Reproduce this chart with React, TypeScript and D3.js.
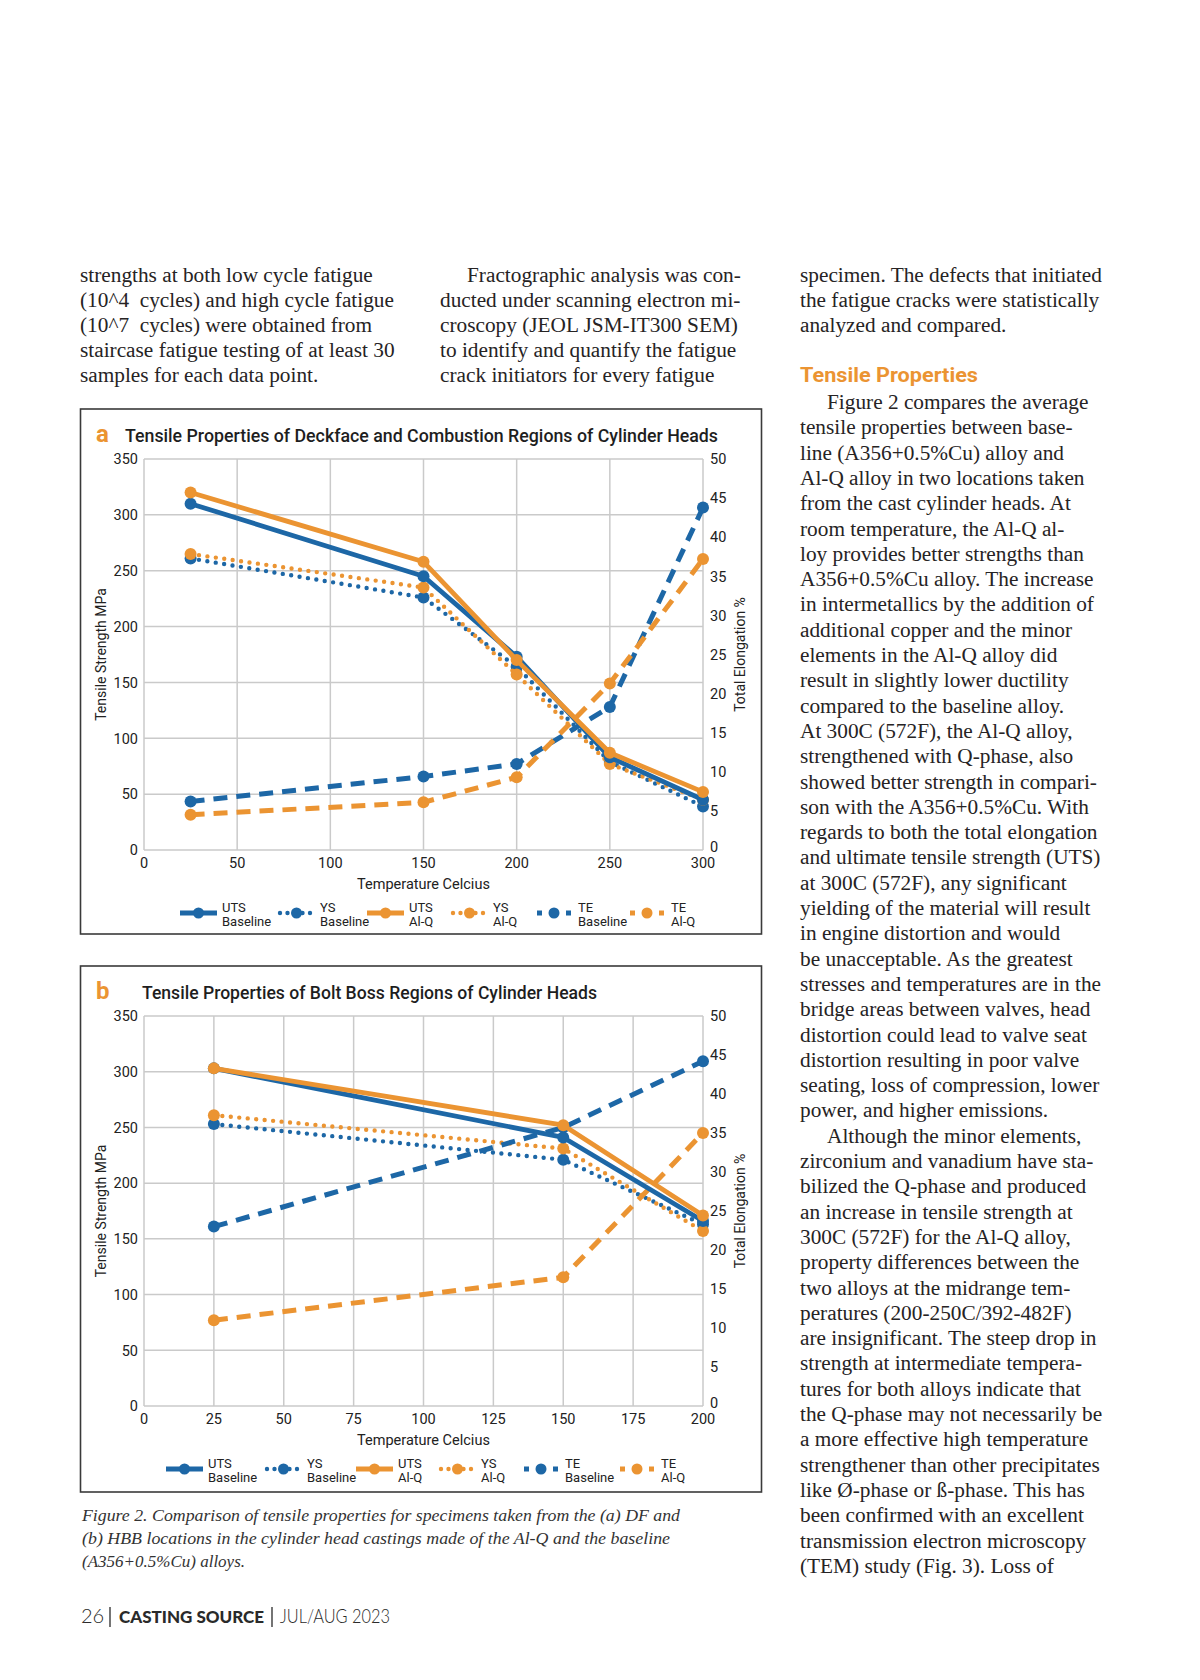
import React, { useEffect, useRef } from "react";
import * as d3 from "d3";

// chart a: deckface / combustion regions
const tempsA = [25, 150, 200, 250, 300];
const utsBaseA = [310, 245, 173, 83, 45];
const ysBaseA = [261, 226, 164, 79, 39];
const utsAlqA = [320, 258, 170, 87, 52];
const ysAlqA = [265, 235, 157, 77, 45];
const teBaseA = [6.2, 9.4, 11.0, 18.3, 43.8];
const teAlqA = [4.5, 6.1, 9.3, 21.3, 37.2];
const tempTicksA = [0, 50, 100, 150, 200, 250, 300];

// chart b: bolt boss regions
const tempsB = [25, 150, 200];
const utsBaseB = [303, 241, 166];
const ysBaseB = [253, 221, 163];
const utsAlqB = [303, 252, 171];
const ysAlqB = [261, 231, 157];
const teBaseB = [23.0, 35.7, 44.2];
const teAlqB = [11.0, 16.5, 35.0];
const tempTicksB = [0, 25, 50, 75, 100, 125, 150, 175, 200];

const mpaTicks = [0, 50, 100, 150, 200, 250, 300, 350];
const teTicks = [0, 5, 10, 15, 20, 25, 30, 35, 40, 45, 50];

const seriesNames = [
  ["UTS", "Baseline"],
  ["YS", "Baseline"],
  ["UTS", "Al-Q"],
  ["YS", "Al-Q"],
  ["TE", "Baseline"],
  ["TE", "Al-Q"],
];

const col1 = [
  "strengths at both low cycle fatigue",
  "(10^4  cycles) and high cycle fatigue",
  "(10^7  cycles) were obtained from",
  "staircase fatigue testing of at least 30",
  "samples for each data point.",
];
const col2 = [
  "Fractographic analysis was con-",
  "ducted under scanning electron mi-",
  "croscopy (JEOL JSM-IT300 SEM)",
  "to identify and quantify the fatigue",
  "crack initiators for every fatigue",
];
const col3Top = [
  "specimen. The defects that initiated",
  "the fatigue cracks were statistically",
  "analyzed and compared.",
];
const col3 = [
  "Figure 2 compares the average",
  "tensile properties between base-",
  "line (A356+0.5%Cu) alloy and",
  "Al-Q alloy in two locations taken",
  "from the cast cylinder heads. At",
  "room temperature, the Al-Q al-",
  "loy provides better strengths than",
  "A356+0.5%Cu alloy. The increase",
  "in intermetallics by the addition of",
  "additional copper and the minor",
  "elements in the Al-Q alloy did",
  "result in slightly lower ductility",
  "compared to the baseline alloy.",
  "At 300C (572F), the Al-Q alloy,",
  "strengthened with Q-phase, also",
  "showed better strength in compari-",
  "son with the A356+0.5%Cu. With",
  "regards to both the total elongation",
  "and ultimate tensile strength (UTS)",
  "at 300C (572F), any significant",
  "yielding of the material will result",
  "in engine distortion and would",
  "be unacceptable. As the greatest",
  "stresses and temperatures are in the",
  "bridge areas between valves, head",
  "distortion could lead to valve seat",
  "distortion resulting in poor valve",
  "seating, loss of compression, lower",
  "power, and higher emissions.",
  "Although the minor elements,",
  "zirconium and vanadium have sta-",
  "bilized the Q-phase and produced",
  "an increase in tensile strength at",
  "300C (572F) for the Al-Q alloy,",
  "property differences between the",
  "two alloys at the midrange tem-",
  "peratures (200-250C/392-482F)",
  "are insignificant. The steep drop in",
  "strength at intermediate tempera-",
  "tures for both alloys indicate that",
  "the Q-phase may not necessarily be",
  "a more effective high temperature",
  "strengthener than other precipitates",
  "like Ø-phase or ß-phase. This has",
  "been confirmed with an excellent",
  "transmission electron microscopy",
  "(TEM) study (Fig. 3). Loss of",
];
const captionLines = [
  "Figure 2. Comparison of tensile properties for specimens taken from the (a) DF and",
  "(b) HBB locations in the cylinder head castings made of the Al-Q and the baseline",
  "(A356+0.5%Cu) alloys.",
];

const BLUE = "#1d67a6";
const ORANGE = "#eb9432";
const GRID = "#cacaca";
const INK = "#262324";
const SANS = "Roboto, 'Noto Sans', sans-serif";
const SERIF = "'Liberation Serif', 'DejaVu Serif', serif";

type Style = "solid" | "dot" | "dash";

function styleLine(sel: any, style: Style, color: string) {
  sel.attr("fill", "none").attr("stroke", color);
  if (style === "solid") sel.attr("stroke-width", 4.8).attr("stroke-linejoin", "round");
  if (style === "dot")
    sel.attr("stroke-width", 4.4).attr("stroke-linecap", "round").attr("stroke-dasharray", "0 8.5");
  if (style === "dash") sel.attr("stroke-width", 5).attr("stroke-dasharray", "14 9");
}

interface ChartCfg {
  letter: string;
  title: string;
  titleX: number;
  titleLen: number;
  boxTop: number;
  boxBottom: number;
  y0: number;
  y350: number;
  temps: number[];
  xMax: number;
  xTicks: number[];
  series: number[][];
  legendX: number[];
}

function drawChart(svg: any, c: ChartCfg) {
  const x = d3.scaleLinear().domain([0, c.xMax]).range([144, 703]);
  const y = d3.scaleLinear().domain([0, 350]).range([c.y0, c.y350]);
  const y2 = d3.scaleLinear().domain([0, 50]).range([c.y0, c.y350]);

  svg
    .append("rect")
    .attr("x", 80.5)
    .attr("y", c.boxTop)
    .attr("width", 681)
    .attr("height", c.boxBottom - c.boxTop)
    .attr("fill", "none")
    .attr("stroke", "#3a3a3a")
    .attr("stroke-width", 1.6);

  const titleY = c.boxTop + 33;
  svg
    .append("text")
    .attr("x", 96)
    .attr("y", titleY)
    .attr("font-family", SANS)
    .attr("font-weight", 700)
    .attr("font-size", 24)
    .attr("fill", ORANGE)
    .text(c.letter);
  svg
    .append("text")
    .attr("x", c.titleX)
    .attr("y", titleY)
    .attr("font-family", SANS)
    .attr("font-weight", 500)
    .attr("font-size", 17.5)
    .attr("fill", "#1e1e1e")
    .attr("textLength", c.titleLen)
    .attr("lengthAdjust", "spacingAndGlyphs")
    .text(c.title);

  const g = svg.append("g");
  // grid
  g.selectAll(".hg")
    .data(mpaTicks)
    .enter()
    .append("line")
    .attr("x1", x(0))
    .attr("x2", x(c.xMax))
    .attr("y1", (d: number) => y(d))
    .attr("y2", (d: number) => y(d))
    .attr("stroke", GRID)
    .attr("stroke-width", 1.5);
  g.selectAll(".vg")
    .data(c.xTicks)
    .enter()
    .append("line")
    .attr("x1", (d: number) => x(d))
    .attr("x2", (d: number) => x(d))
    .attr("y1", y(0))
    .attr("y2", y(350))
    .attr("stroke", GRID)
    .attr("stroke-width", 1.5);

  const tick = { "font-family": SANS, "font-size": 14.5, fill: "#222" };
  const lab = g
    .selectAll(".ly")
    .data(mpaTicks)
    .enter()
    .append("text")
    .attr("x", 138)
    .attr("y", (d: number) => y(d))
    .attr("dy", "0.36em")
    .attr("text-anchor", "end")
    .text((d: number) => d);
  Object.entries(tick).forEach(([k, v]) => lab.attr(k, v));
  const labR = g
    .selectAll(".ry")
    .data(teTicks)
    .enter()
    .append("text")
    .attr("x", 710)
    .attr("y", (d: number) => y2(d) - (d === 0 ? 3 : 0))
    .attr("dy", "0.36em")
    .text((d: number) => d);
  Object.entries(tick).forEach(([k, v]) => labR.attr(k, v));
  const labX = g
    .selectAll(".lx")
    .data(c.xTicks)
    .enter()
    .append("text")
    .attr("x", (d: number) => x(d))
    .attr("y", c.y0 + 18)
    .attr("text-anchor", "middle")
    .text((d: number) => d);
  Object.entries(tick).forEach(([k, v]) => labX.attr(k, v));

  const mid = (c.y0 + c.y350) / 2;
  g.append("text")
    .attr("transform", `translate(106,${mid}) rotate(-90)`)
    .attr("text-anchor", "middle")
    .attr("font-family", SANS)
    .attr("font-size", 14)
    .attr("fill", "#222")
    .text("Tensile Strength MPa");
  g.append("text")
    .attr("transform", `translate(745,${mid}) rotate(-90)`)
    .attr("text-anchor", "middle")
    .attr("font-family", SANS)
    .attr("font-size", 14)
    .attr("fill", "#222")
    .text("Total Elongation %");
  g.append("text")
    .attr("x", (x(0) + x(c.xMax)) / 2)
    .attr("y", c.y0 + 39)
    .attr("text-anchor", "middle")
    .attr("font-family", SANS)
    .attr("font-size", 14.5)
    .attr("fill", "#222")
    .text("Temperature Celcius");

  const colors = [BLUE, BLUE, ORANGE, ORANGE, BLUE, ORANGE];
  const styles: Style[] = ["solid", "dot", "solid", "dot", "dash", "dash"];
  const order = [1, 3, 4, 5, 0, 2];
  order.forEach((i) => {
    const vals = c.series[i];
    const ys = i >= 4 ? y2 : y;
    const line = d3
      .line<number>()
      .x((_, k) => x(c.temps[k]))
      .y((d) => ys(d));
    const p = g.append("path").attr("d", line(vals));
    styleLine(p, styles[i], colors[i]);
    g.selectAll(null)
      .data(vals)
      .enter()
      .append("circle")
      .attr("cx", (_: number, k: number) => x(c.temps[k]))
      .attr("cy", (d: number) => ys(d))
      .attr("r", 6)
      .attr("fill", colors[i]);
  });

  // legend
  const ly = c.y0 + 63;
  seriesNames.forEach((nm, i) => {
    const lx = c.legendX[i];
    const w = i >= 4 ? 34 : 37;
    const l = g
      .append("line")
      .attr("x1", lx)
      .attr("x2", lx + w)
      .attr("y1", ly)
      .attr("y2", ly);
    styleLine(l, styles[i], colors[i]);
    if (styles[i] === "dash") l.attr("stroke-dasharray", "5 24 5");
    if (styles[i] === "dot") l.attr("stroke-dasharray", "0 7.5").attr("stroke-dashoffset", -2);
    g.append("circle")
      .attr("cx", lx + w / 2)
      .attr("cy", ly)
      .attr("r", 5.5)
      .attr("fill", colors[i]);
    nm.forEach((t, k) => {
      g.append("text")
        .attr("x", lx + w + (i >= 4 ? 7 : 5))
        .attr("y", ly - 1 + k * 14)
        .attr("font-family", SANS)
        .attr("font-size", 13)
        .attr("fill", "#222")
        .text(t);
    });
  });
}

export default function App() {
  const ref = useRef<SVGSVGElement>(null);

  useEffect(() => {
    const svg = d3.select(ref.current);
    svg.selectAll("*").remove();
    svg.append("rect").attr("width", 1200).attr("height", 1680).attr("fill", "#fff");

    const body = (lines: string[], x0: number, top: number, step: number, indent: number[]) =>
      svg
        .append("g")
        .selectAll("text")
        .data(lines)
        .enter()
        .append("text")
        .attr("x", (_: string, i: number) => x0 + (indent.includes(i) ? 27 : 0))
        .attr("y", (_: string, i: number) => top + i * step)
        .attr("font-family", SERIF)
        .attr("font-size", 21.3)
        .attr("fill", INK)
        .style("white-space", "pre")
        .text((d: string) => d);

    body(col1, 80, 282, 25, []);
    body(col2, 440, 282, 25, [0]);
    body(col3Top, 800, 282, 25, []);
    svg
      .append("text")
      .attr("x", 800)
      .attr("y", 382)
      .attr("font-family", SANS)
      .attr("font-weight", 700)
      .attr("font-size", 19.5)
      .attr("fill", ORANGE)
      .attr("textLength", 178)
      .attr("lengthAdjust", "spacingAndGlyphs")
      .text("Tensile Properties");
    body(col3, 800, 409, 25.3, [0, 29]);

    drawChart(svg, {
      letter: "a",
      title: "Tensile Properties of Deckface and Combustion Regions of Cylinder Heads",
      titleX: 125,
      titleLen: 593,
      boxTop: 409,
      boxBottom: 934,
      y0: 850,
      y350: 459,
      temps: tempsA,
      xMax: 300,
      xTicks: tempTicksA,
      series: [utsBaseA, ysBaseA, utsAlqA, ysAlqA, teBaseA, teAlqA],
      legendX: [180, 278, 367, 451, 537, 630],
    });
    drawChart(svg, {
      letter: "b",
      title: "Tensile Properties of Bolt Boss Regions of Cylinder Heads",
      titleX: 142,
      titleLen: 455,
      boxTop: 966,
      boxBottom: 1492,
      y0: 1406,
      y350: 1016,
      temps: tempsB,
      xMax: 200,
      xTicks: tempTicksB,
      series: [utsBaseB, ysBaseB, utsAlqB, ysAlqB, teBaseB, teAlqB],
      legendX: [166, 265, 356, 439, 524, 620],
    });

    svg
      .append("g")
      .selectAll("text")
      .data(captionLines)
      .enter()
      .append("text")
      .attr("x", 82)
      .attr("y", (_: string, i: number) => 1521 + i * 23)
      .attr("font-family", SERIF)
      .attr("font-style", "italic")
      .attr("font-size", 17)
      .attr("fill", "#333")
      .each(function (this: SVGTextElement, _: string, i: number) {
        if (i === 0) d3.select(this).attr("textLength", 598).attr("lengthAdjust", "spacingAndGlyphs");
        if (i === 1) d3.select(this).attr("textLength", 588).attr("lengthAdjust", "spacingAndGlyphs");
      })
      .text((d: string) => d);

    // footer
    const foot = svg.append("g").attr("fill", "#2a2a2a");
    foot
      .append("text")
      .attr("x", 81)
      .attr("y", 1623)
      .attr("font-family", "Lato, sans-serif")
      .attr("font-weight", 300)
      .attr("font-size", 20)
      .text("26");
    foot
      .append("text")
      .attr("x", 119)
      .attr("y", 1623)
      .attr("font-family", "Lato, sans-serif")
      .attr("font-weight", 900)
      .attr("font-size", 17.5)
      .attr("textLength", 145)
      .attr("lengthAdjust", "spacingAndGlyphs")
      .text("CASTING SOURCE");
    foot
      .append("text")
      .attr("x", 280)
      .attr("y", 1623)
      .attr("font-family", "Lato, sans-serif")
      .attr("font-weight", 300)
      .attr("font-size", 19.5)
      .attr("textLength", 110)
      .attr("lengthAdjust", "spacingAndGlyphs")
      .text("JUL/AUG 2023");
    [110, 272].forEach((fx) =>
      foot
        .append("line")
        .attr("x1", fx)
        .attr("x2", fx)
        .attr("y1", 1607)
        .attr("y2", 1627)
        .attr("stroke", "#2a2a2a")
        .attr("stroke-width", 1.3)
    );
  }, []);

  return (
    <svg
      ref={ref}
      width={1200}
      height={1680}
      style={{ position: "absolute", top: 0, left: 0, display: "block" }}
    />
  );
}
